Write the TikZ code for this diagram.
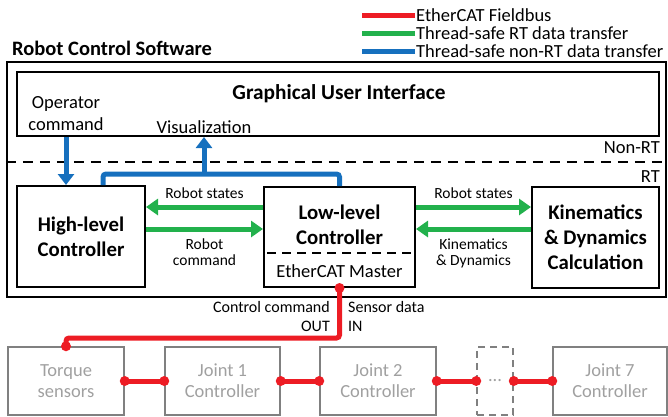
\documentclass[tikz,border=0pt]{standalone}
\usepackage{fontspec}
\setmainfont{Carlito}
\usepackage{tikz}
\usetikzlibrary{arrows.meta}
\definecolor{ecred}{RGB}{237,28,36}
\definecolor{rtgreen}{RGB}{34,177,76}
\definecolor{nrtblue}{RGB}{22,112,190}
\definecolor{boxgray}{RGB}{128,128,128}
\definecolor{txtgray}{RGB}{160,160,160}
\tikzset{
	txt/.style={inner sep=1pt, align=center, font=\fontsize{18.5}{22}\selectfont},
	small/.style={inner sep=1pt, align=center, text=black, font=\fontsize{15.5}{16}\selectfont},
	blk/.style={draw, line width=2pt, inner sep=0pt},
	blktxt/.style={inner sep=0pt, align=center, font=\bfseries\fontsize{20.8}{25}\selectfont},
	slave/.style={draw=boxgray, line width=1.5pt, text=txtgray, align=center, inner sep=0pt,
		minimum height=68pt, font=\fontsize{18.5}{21}\selectfont},
	rtlink/.style={rtgreen, line width=5pt, -{Triangle[length=12pt,width=16pt]}},
	nrtlink/.style={nrtblue, line width=5pt},
	bus/.style={ecred, line width=5pt},
	busdot/.style={circle, fill=ecred, inner sep=0pt, minimum size=10pt}
}

\begin{document}
\begin{tikzpicture}[x=1pt, y=-1pt]
	\useasboundingbox (0,0) rectangle (668,416);
	\foreach \c/\t [count=\i] in {ecred/EtherCAT Fieldbus, rtgreen/Thread-safe RT data transfer, nrtblue/Thread-safe non-RT data transfer} {
		\node[txt, anchor=west] (lg\i) at (415,{15+18*(\i-1)}) {\t};
		\draw[\c, line width=5pt] (lg\i.west) -- ++(-53,0);
	}
	\node[inner sep=0pt, anchor=west, font=\bfseries\fontsize{20.5}{22}\selectfont] (title) at (12,48) {Robot Control Software};
	\node[draw, line width=2.3pt, minimum width=659pt, minimum height=235pt] (rcs) at (336.5,179.5) {};
	\node[blk, minimum width=642pt, minimum height=64pt] (gui) at (338,104) {};
	\node[blktxt, font=\bfseries\fontsize{21.3}{25}\selectfont] (guit) at (339,94) {Graphical User Interface};
	\node[txt] (opc) at (66,114) {Operator\\command};
	\node[txt] (vis) at (204,127) {Visualization};
	\draw[line width=2.3pt, dash pattern=on 10pt off 7pt] (rcs.west |- 0,162) -- (rcs.east |- 0,162);
	\node[txt, anchor=east] (nrt) at (661,148) {Non-RT};
	\node[txt, anchor=east] (rt) at (661,177) {RT};

	\node[blk, minimum width=128pt, minimum height=101pt] (hlc) at (81,236.5) {};
	\node[blktxt] at (hlc) {High-level\\Controller};
	\node[blk, minimum width=151pt, minimum height=100pt] (llc) at (339.5,237) {};
	\node[blktxt] (llct) at (339.5,224.5) {Low-level\\Controller};
	\draw[line width=2pt, dash pattern=on 9pt off 6pt] ([xshift=4pt]llc.west |- 0,253) -- ([xshift=-4pt]llc.east |- 0,253);
	\node[txt] (ecm) at (339.5,271) {EtherCAT Master};
	\node[blk, minimum width=127pt, minimum height=101pt] (kdc) at (595.5,237.5) {};
	\node[blktxt] at (kdc) {Kinematics\\\& Dynamics\\Calculation};

	\draw[rtlink] ([yshift=30pt]llc.west) -- ([yshift=30pt]llc.west -| hlc.east) node[small, midway, above=5pt] (hrs) {Robot states};
	\draw[rtlink] ([yshift=8pt]hlc.east |- llc.center) -- ([yshift=8pt]llc.west) node[small, midway, below=6pt] (hrc) {Robot\\command};
	\draw[rtlink] ([yshift=30pt]llc.east) -- ([yshift=30pt]llc.east -| kdc.west) node[small, midway, above=5pt] (krs) {Robot states};
	\draw[rtlink] ([yshift=8pt]kdc.west |- llc.center) -- ([yshift=8pt]llc.east) node[small, midway, below=6pt] (kkd) {Kinematics\\\& Dynamics};

	\draw[nrtlink, -{Triangle[length=11pt,width=16pt]}] (opc.south |- gui.south) -- (opc.south |- hlc.north);
	\coordinate (vbus) at (103,174);
	\draw[nrtlink, rounded corners=3pt] (vbus |- hlc.north) -- (vbus) -| (llc.north);
	\draw[nrtlink, -{Triangle[length=11pt,width=16pt]}] (vis.south |- vbus) -- (vis.south |- gui.south);

	\node[slave, minimum width=116pt] (tq) at (66,381) {Torque\\sensors};
	\node[slave, minimum width=115pt] (j1) at (222.5,381) {Joint 1\\Controller};
	\node[slave, minimum width=116pt] (j2) at (378,381) {Joint 2\\Controller};
	\node[slave, dash pattern=on 7pt off 5pt, minimum width=36pt] (jd) at (495,381) {...};
	\node[slave, minimum width=114pt] (j7) at (610,381) {Joint 7\\Controller};

	\coordinate (fb) at (0,338);
	\draw[bus, rounded corners=3pt] (llc.south) |- (fb -| tq.north) -- (tq.north);
	\node[busdot] at (llc.south) {};
	\node[busdot] at (tq.north) {};
	\foreach \a/\b in {tq/j1, j1/j2, j2/jd, jd/j7} {
		\draw[bus] (\a.east) -- (\b.west);
		\node[busdot] at (\a.east) {};
		\node[busdot] at (\b.west) {};
	}
	\node[small, anchor=east, align=right, font=\fontsize{16}{19}\selectfont] (cmd) at (331,316.5) {Control command\\OUT};
	\node[small, anchor=west, align=left, font=\fontsize{16}{19}\selectfont] (sns) at (347,316.5) {Sensor data\\IN};
\end{tikzpicture}
\end{document}
